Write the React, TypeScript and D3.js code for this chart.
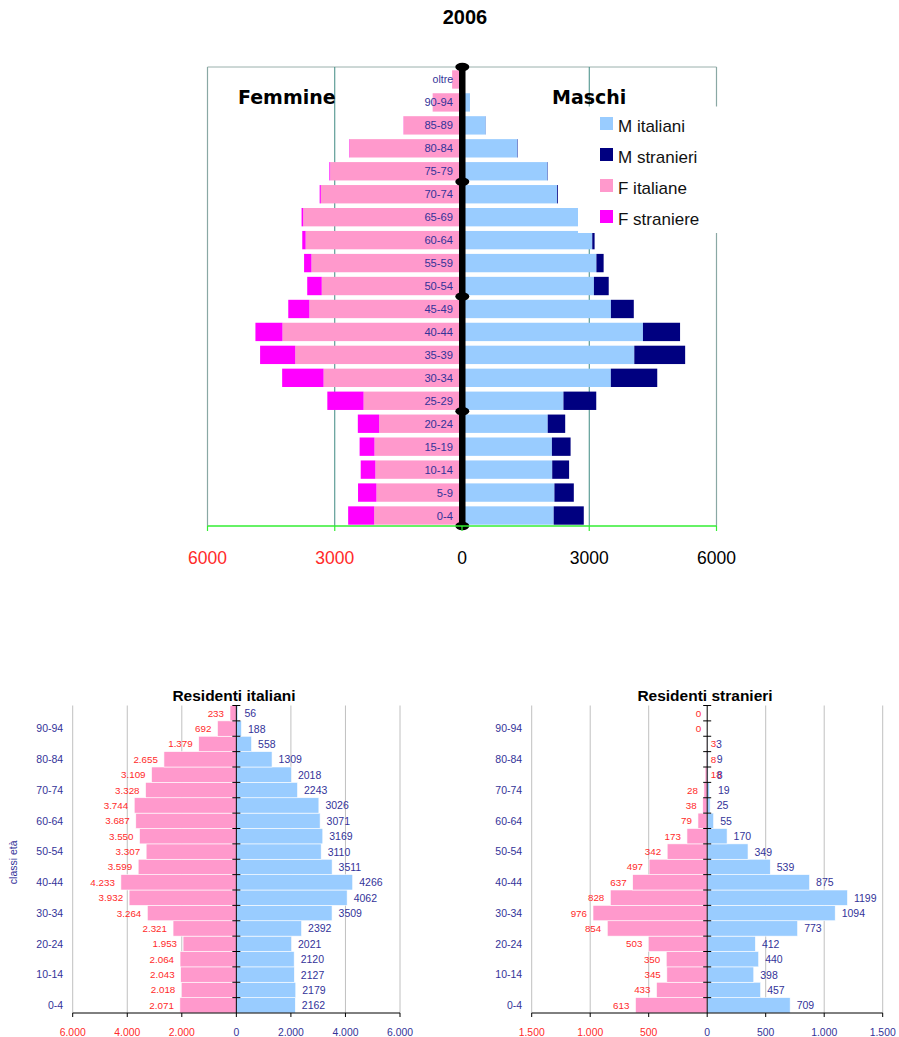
import React from "react";
import * as d3 from "d3";

const categories = ["0-4", "5-9", "10-14", "15-19", "20-24", "25-29", "30-34", "35-39", "40-44", "45-49", "50-54", "55-59", "60-64", "65-69", "70-74", "75-79", "80-84", "85-89", "90-94", "oltre"];
const fItaliane = [2071, 2018, 2043, 2064, 1953, 2321, 3264, 3932, 4233, 3599, 3307, 3550, 3687, 3744, 3328, 3109, 2655, 1379, 692, 233];
const mItaliani = [2162, 2179, 2127, 2120, 2021, 2392, 3509, 4062, 4266, 3511, 3110, 3169, 3071, 3026, 2243, 2018, 1309, 558, 188, 56];
const fStraniere = [613, 433, 345, 350, 503, 854, 976, 828, 637, 497, 342, 173, 79, 38, 28, 18, 8, 3, 0, 0];
const mStranieri: (number | null)[] = [709, 457, 398, 440, 412, 773, 1094, 1199, 875, 539, 349, 170, 55, 25, 19, 8, 9, 3, null, null];

const topTicks = [-6000, -3000, 0, 3000, 6000];
const itTicks = [-6000, -4000, -2000, 0, 2000, 4000, 6000];
const stTicks = [-1500, -1000, -500, 0, 500, 1000, 1500];
const legendItems = ["M italiani", "M stranieri", "F italiane", "F straniere"];

const C_FIT = "#ff99cc";
const C_FST = "#ff00ff";
const C_MIT = "#99ccff";
const C_MST = "#000080";
const NAVY = "#333399";
const RED = "#ff2a2a";
const FONT = "Arial, 'Liberation Sans', Helvetica, sans-serif";
const fmtIt = (v: number) => {
  const s = String(Math.abs(v));
  return s.replace(/\B(?=(\d{3})+(?!\d))/g, ".");
};

function TopChart() {
  const left = 207.5, right = 716.5, top = 67, bottom = 526;
  const x = d3.scaleLinear().domain([-6000, 6000]).range([left, right]);
  const y = d3.scaleBand<string>().domain([...categories].reverse()).range([top + 1, bottom + 1]).paddingInner(0.2).paddingOuter(0.1);
  const x0 = x(0);
  const legendColors = [C_MIT, C_MST, C_FIT, C_FST];
  const capYs = d3.range(0, categories.length + 1, 5).map((i) => top + (i * (bottom - top)) / categories.length);
  return (
    <g>
      <text x={465} y={24} textAnchor="middle" fontFamily={FONT} fontWeight="bold" fontSize={20}>2006</text>
      <line x1={left} x2={right} y1={top} y2={top} stroke="#9ab0ac" strokeWidth={1} />
      <line x1={left} x2={left} y1={top} y2={bottom} stroke="#8aa8a4" strokeWidth={1.2} />
      <line x1={right} x2={right} y1={top} y2={bottom} stroke="#8aa8a4" strokeWidth={1.2} />
      {topTicks.filter((t) => t !== 0 && Math.abs(t) !== 6000).map((t) => (
        <line key={t} x1={x(t)} x2={x(t)} y1={top} y2={bottom} stroke="#3f8a82" strokeWidth={1} />
      ))}
      {categories.map((c, i) => {
        const yy = y(c)!;
        const h = y.bandwidth();
        const fi = fItaliane[i], fs = fStraniere[i], mi = mItaliani[i], ms = mStranieri[i] ?? 0;
        return (
          <g key={c}>
            <rect x={x(-fi)} y={yy} width={x0 - x(-fi)} height={h} fill={C_FIT} />
            {fs > 0 && <rect x={x(-fi - fs)} y={yy} width={x(-fi) - x(-fi - fs)} height={h} fill={C_FST} />}
            <rect x={x0} y={yy} width={x(mi) - x0} height={h} fill={C_MIT} />
            {ms > 0 && <rect x={x(mi)} y={yy} width={x(mi + ms) - x(mi)} height={h} fill={C_MST} />}
            <text x={x0 - 9} y={yy + h / 2 + 4} textAnchor="end" fontFamily={FONT} fontSize={c === "oltre" ? 10.5 : 11.2} fill={NAVY}>{c}</text>
          </g>
        );
      })}
      <rect x={x0 - 3} y={top} width={6.5} height={bottom - top} fill="#000" />
      {capYs.map((cy, k) => (
        <ellipse key={k} cx={x0 + 0.3} cy={cy} rx={7} ry={4.2} fill="#000" />
      ))}
      <line x1={left} x2={right} y1={bottom} y2={bottom} stroke="#33ee33" strokeWidth={1.5} />
      {topTicks.map((t) => (
        <g key={t}>
          <line x1={x(t)} x2={x(t)} y1={bottom} y2={bottom + 5} stroke="#33ee33" strokeWidth={1.2} />
          <text x={x(t)} y={564} textAnchor="middle" fontFamily={FONT} fontSize={17.5} fill={t < 0 ? RED : "#000"}>{Math.abs(t)}</text>
        </g>
      ))}
      <text x={238} y={104} fontFamily="'DejaVu Sans', Verdana, sans-serif" fontWeight="bold" fontSize={19}>Femmine</text>
      <text x={552} y={104} fontFamily="'DejaVu Sans', Verdana, sans-serif" fontWeight="bold" fontSize={19}>Maschi</text>
      <rect x={578} y={106.5} width={142} height={126.5} fill="#fff" />
      {legendItems.map((l, i) => (
        <g key={l}>
          <rect x={600} y={117 + i * 31} width={13} height={13} fill={legendColors[i]} />
          <text x={618} y={132 + i * 31} fontFamily={FONT} fontSize={17} fill="#111">{l}</text>
        </g>
      ))}
    </g>
  );
}

function SmallChart(props: {
  title: string; left: number; right: number; max: number; ticks: number[];
  fVals: number[]; mVals: (number | null)[]; titleX: number; showYTitle: boolean;
}) {
  const { title, left, right, max, ticks, fVals, mVals, titleX, showYTitle } = props;
  const top = 705.5, bottom = 1013;
  const x = d3.scaleLinear().domain([-max, max]).range([left, right]);
  const y = d3.scaleBand<string>().domain([...categories].reverse()).range([top, bottom]).padding(0);
  const x0 = x(0);
  const h = y.bandwidth();
  return (
    <g>
      <text x={titleX} y={701} textAnchor="middle" fontFamily={FONT} fontWeight="bold" fontSize={15.5}>{title}</text>
      {ticks.filter((t) => t !== 0).map((t) => (
        <line key={t} x1={x(t)} x2={x(t)} y1={top} y2={bottom} stroke="#c0c0c0" strokeWidth={1} />
      ))}
      {categories.map((c, i) => {
        const yy = y(c)!;
        const f = fVals[i];
        const m = mVals[i];
        return (
          <g key={c}>
            {f > 0 && <rect x={x(-f)} y={yy} width={x0 - x(-f)} height={h} fill={C_FIT} stroke="#fff" strokeWidth={0.6} />}
            {m !== null && m > 0 && <rect x={x0} y={yy} width={x(m) - x0} height={h} fill={C_MIT} stroke="#fff" strokeWidth={0.6} />}
            {i % 2 === 0 && (
              <text x={left - 9.5} y={yy + h / 2 + 3.8} textAnchor="end" fontFamily={FONT} fontSize={10.5} fill={NAVY}>{c}</text>
            )}
          </g>
        );
      })}
      {categories.map((c, i) => {
        const yy = y(c)!;
        const f = fVals[i];
        const m = mVals[i];
        const fSmall = f > 0 && f < 20;
        const mSmall = m !== null && m < 20;
        return (
          <g key={c}>
            <text x={fSmall ? x0 + 3.5 : x(-f) - 6} y={yy + h / 2 + 3.5} textAnchor={fSmall ? "start" : "end"} fontFamily={FONT} fontSize={9.8} fill={RED}>{fmtIt(f)}</text>
            {m !== null && (
              <text x={x(m) + (mSmall ? 8.5 : 6.5)} y={yy + h / 2 + 4} textAnchor="start" fontFamily={FONT} fontSize={10.5} fill={NAVY}>{m}</text>
            )}
          </g>
        );
      })}
      <line x1={x0} x2={x0} y1={top} y2={bottom} stroke="#000" strokeWidth={1} />
      {d3.range(0, categories.length).map((k) => (
        <line key={k} x1={x0 - 4} x2={x0 + 4} y1={top + k * h} y2={top + k * h} stroke="#000" strokeWidth={1} />
      ))}
      <line x1={left} x2={right} y1={bottom} y2={bottom} stroke="#000" strokeWidth={1} />
      {ticks.map((t) => (
        <g key={t}>
          <line x1={x(t)} x2={x(t)} y1={bottom} y2={bottom + 4} stroke="#000" strokeWidth={1} />
          <text x={x(t)} y={1036} textAnchor="middle" fontFamily={FONT} fontSize={10.4} fill={t < 0 ? RED : NAVY}>{fmtIt(t)}</text>
        </g>
      ))}
      {showYTitle && (
        <text transform={`translate(17,${(top + bottom) / 2 + 3}) rotate(-90)`} textAnchor="middle" fontFamily={FONT} fontSize={10.5} fill={NAVY}>classi età</text>
      )}
    </g>
  );
}

export default function App() {
  return (
    <svg width={899} height={1037} style={{ position: "absolute", left: 0, top: 0, display: "block", background: "#fff" }}>
      <rect x={0} y={0} width={899} height={1037} fill="#fff" />
      <TopChart />
      <SmallChart title="Residenti italiani" left={72.7} right={400} max={6000} ticks={itTicks} fVals={fItaliane} mVals={mItaliani} titleX={234} showYTitle={true} />
      <SmallChart title="Residenti stranieri" left={531.7} right={882.7} max={1500} ticks={stTicks} fVals={fStraniere} mVals={mStranieri} titleX={705} showYTitle={false} />
    </svg>
  );
}
